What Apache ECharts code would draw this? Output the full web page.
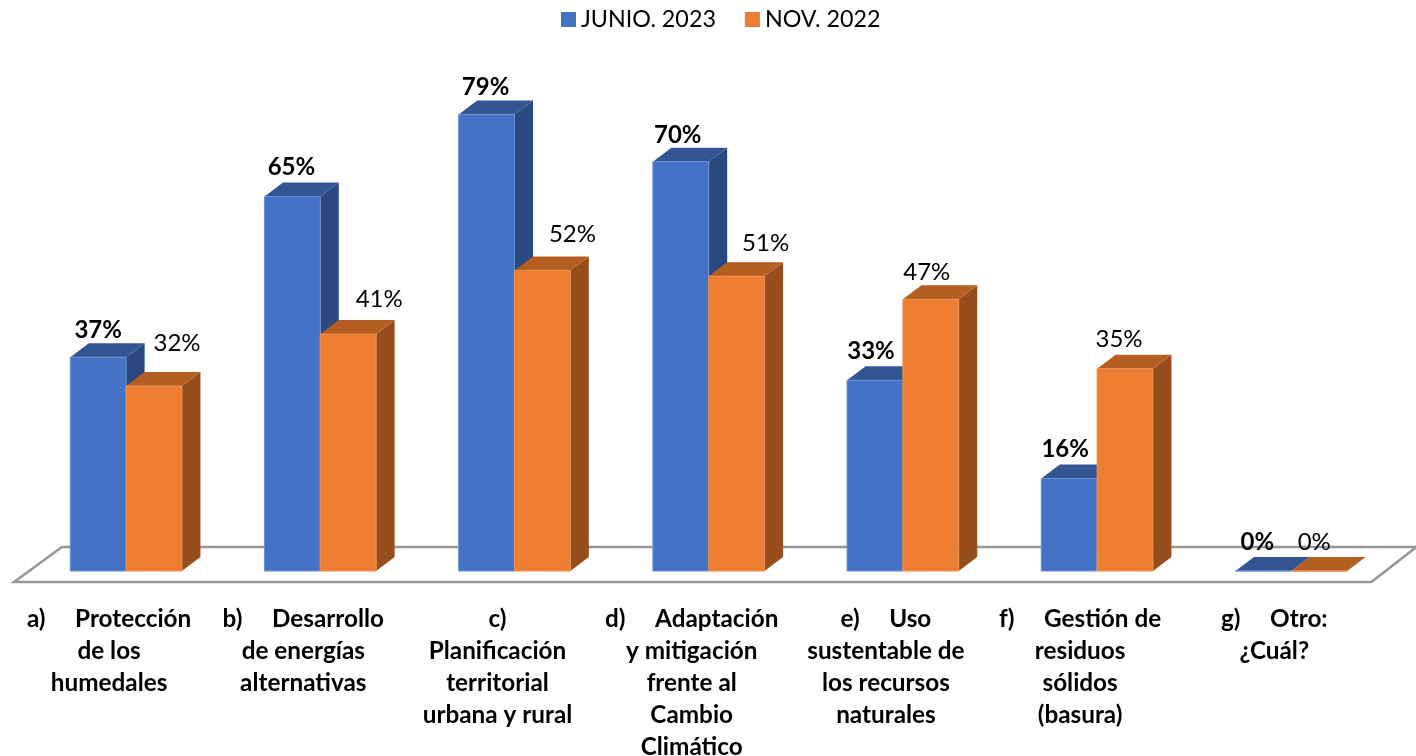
<!DOCTYPE html>
<html>
<head>
<meta charset="utf-8">
<title>Chart</title>
<script src="https://cdn.jsdelivr.net/npm/echarts@6/dist/echarts.min.js"></script>
<style>
  html, body { margin: 0; padding: 0; background: #fff; }
  #chart { width: 1416px; height: 756px; }
</style>
</head>
<body>
<div id="chart"></div>
<script>
const categories = [
  'a)     Protección\nde los\nhumedales',
  'b)     Desarrollo\nde energías\nalternativas',
  'c)\nPlanificación\nterritorial\nurbana y rural',
  'd)     Adaptación\ny mitigación\nfrente al\nCambio\nClimático',
  'e)     Uso\nsustentable de\nlos recursos\nnaturales',
  'f)     Gestión de\nresiduos\nsólidos\n(basura)',
  'g)     Otro:\n¿Cuál?'
];
// bar heights as drawn; the printed labels differ slightly on b) and d)
const junio2023 = [37, 64.8, 79, 70.8, 33, 16, 0];
const junioLabels = ['37%', '65%', '79%', '70%', '33%', '16%', '0%'];
const nov2022 = [32, 41, 52, 51, 47, 35, 0];
const novLabels = ['32%', '41%', '52%', '51%', '47%', '35%', '0%'];

// the value labels were moved by hand in the original, so they need a nudge
const junioNudgeX = [0, -1, -1, -3, -4, -4, -6];
const junioNudgeY = [-27, -29, -27, -27, -29, -29, -29];
const novNudgeX = [23, 31, 30, 29, -4, -6, -5];
const novNudgeY = [-43, -35, -36, -33, -27, -29, -29];

const FONT = 'Lato, Carlito, Calibri, sans-serif';
const DEPTH_X = 18.5;
const DEPTH_Y = 14;

function barRenderer(side, colors, bold, labels, nudgeX, nudgeY) {
  return function (params, api) {
    const idx = api.value(0);
    const val = api.value(1);
    const top = api.coord([idx, val]);
    const base = api.coord([idx, 0]);
    const w = api.size([1, 0])[0] * 0.2875;
    const x0 = side < 0 ? top[0] - w : top[0];
    const x1 = x0 + w;
    const y0 = top[1];
    const y1 = base[1];
    return {
      type: 'group',
      children: [
        {
          type: 'polygon',
          shape: { points: [[x1, y0], [x1 + DEPTH_X, y0 - DEPTH_Y], [x1 + DEPTH_X, y1 - DEPTH_Y], [x1, y1]] },
          style: { fill: colors.side }
        },
        {
          type: 'polygon',
          shape: { points: [[x0, y0], [x0 + DEPTH_X, y0 - DEPTH_Y], [x1 + DEPTH_X, y0 - DEPTH_Y], [x1, y0]] },
          style: { fill: colors.top }
        },
        {
          type: 'rect',
          shape: { x: x0, y: y0, width: w, height: y1 - y0 },
          style: { fill: colors.front, stroke: colors.edge, lineWidth: 1 }
        },
        {
          type: 'text',
          z2: 10,
          style: {
            x: x0 + w / 2 + nudgeX[idx],
            y: y0 + nudgeY[idx],
            text: labels[idx],
            fill: '#000',
            font: (bold ? 'bold ' : '') + '24px ' + FONT,
            textAlign: 'center',
            textVerticalAlign: 'middle'
          }
        }
      ]
    };
  };
}

function floorRenderer(params, api) {
  const left = params.coordSys.x;
  const right = left + params.coordSys.width;
  const y = api.coord([0, 0])[1];
  return {
    type: 'polygon',
    shape: { points: [[left - 15, y + 11], [left + 33, y - 24], [right + 28, y - 24], [right - 17, y + 11]] },
    style: { fill: 'none', stroke: '#979797', lineWidth: 2.5 }
  };
}

const chart = echarts.init(document.getElementById('chart'));
const option = {
  animation: false,
  backgroundColor: '#fff',
  legend: {
    data: ['JUNIO. 2023', 'NOV. 2022'],
    top: 3,
    left: 556,
    icon: 'rect',
    itemWidth: 15,
    itemHeight: 15,
    itemGap: 29,
    textStyle: { fontFamily: FONT, fontSize: 23.3, color: '#000' }
  },
  grid: { left: 29, right: 27.6, top: 108.6, bottom: 185, outerBoundsMode: 'none' },
  xAxis: {
    type: 'category',
    data: categories,
    axisLine: { show: false },
    axisTick: { show: false },
    axisLabel: {
      interval: 0,
      margin: 32,
      padding: [0, 34, 0, 0],
      hideOverlap: false,
      fontFamily: FONT,
      fontSize: 24.3,
      fontWeight: 'bold',
      lineHeight: 32,
      color: '#000'
    }
  },
  yAxis: { type: 'value', min: 0, max: 80, show: false },
  series: [
    {
      name: 'floor',
      type: 'custom',
      silent: true,
      data: [[0, 0]],
      renderItem: floorRenderer
    },
    {
      name: 'JUNIO. 2023',
      type: 'custom',
      clip: false,
      itemStyle: { color: '#4472C4' },
      encode: { x: 0, y: 1 },
      data: junio2023.map((v, i) => [i, v]),
      renderItem: barRenderer(-1, { front: '#4472C4', top: '#335593', side: '#2B4880', edge: '#6A90D4' }, true, junioLabels, junioNudgeX, junioNudgeY)
    },
    {
      name: 'NOV. 2022',
      type: 'custom',
      clip: false,
      itemStyle: { color: '#ED7D31' },
      encode: { x: 0, y: 1 },
      data: nov2022.map((v, i) => [i, v]),
      renderItem: barRenderer(1, { front: '#ED7D31', top: '#B55E22', side: '#974E1C', edge: '#F09050' }, false, novLabels, novNudgeX, novNudgeY)
    }
  ]
};
chart.setOption(option);
window.addEventListener('resize', () => {
  chart.resize();
});
</script>
</body>
</html>
